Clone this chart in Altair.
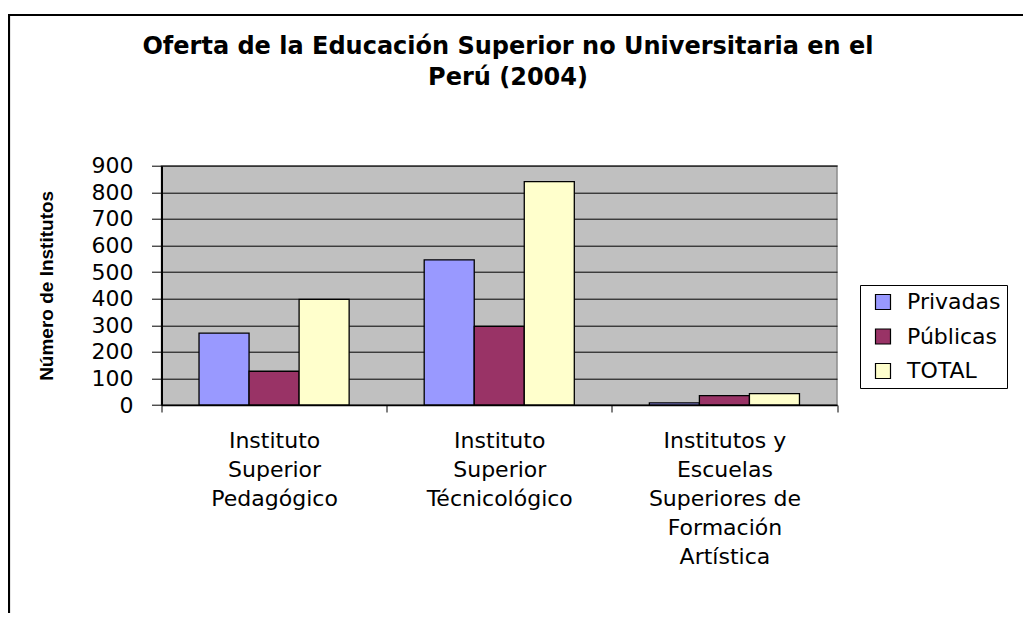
import altair as alt
import pandas as pd

# ---- data ----
categorias = [
    "Instituto\nSuperior\nPedagógico",
    "Instituto\nSuperior\nTécnicológico",
    "Institutos y\nEscuelas\nSuperiores de\nFormación\nArtística",
]
series = ["Privadas", "Públicas", "TOTAL"]
privadas = [270, 546, 8]
publicas = [127, 296, 35]
total = [397, 840, 43]
colores = ["#9999FF", "#993366", "#FFFFCC"]
y_ticks = [0, 100, 200, 300, 400, 500, 600, 700, 800, 900]
titulo = ["Oferta de la Educación Superior no Universitaria en el", "Perú (2004)"]
titulo_y = "Número de Institutos"

rows = []
for nombre, vals in zip(series, [privadas, publicas, total]):
    for c, v in zip(categorias, vals):
        rows.append({"categoria": c, "serie": nombre, "valor": v})
df = pd.DataFrame(rows)

W, H = 675.5, 239.3
PAD = {"left": 153.5, "top": 157.7, "right": 186, "bottom": 208}
FONT = "DejaVu Sans"

bars = alt.Chart(df).mark_bar(stroke="black", strokeWidth=1.3).encode(
    x=alt.X(
        "categoria:N",
        sort=categorias,
        scale=alt.Scale(paddingInner=0, paddingOuter=0),
        axis=alt.Axis(
            title=None,
            labelAngle=0,
            labelExpr="isValid(datum.value) ? split(datum.value, '\\n') : ''",
            tickBand="extent",
            tickSize=7,
            tickColor="black",
            domainColor="black",
            domainWidth=1.5,
            labelPadding=18,
            labelFont=FONT,
            labelFontSize=22,
            labelLineHeight=29,
            labelColor="black",
            labelBaseline="top",
            labelLimit=400,
            grid=False,
        ),
    ),
    xOffset=alt.XOffset(
        "serie:N", sort=series, scale=alt.Scale(paddingInner=0, paddingOuter=0.75)
    ),
    y=alt.Y(
        "valor:Q",
        scale=alt.Scale(domain=[0, 900], nice=False),
        axis=alt.Axis(
            values=y_ticks,
            title=titulo_y,
            titleFont="Liberation Sans",
            titleFontSize=19,
            titleFontWeight="bold",
            titleColor="black",
            titleAngle=270,
            titleAlign="center",
            titleBaseline="middle",
            titleX=-115.5,
            titleY=H / 2,
            labelFont=FONT,
            labelFontSize=22,
            labelColor="black",
            labelPadding=18.5,
            tickSize=10,
            tickColor="black",
            domainColor="black",
            domainWidth=2,
            gridColor="black",
            gridWidth=1,
        ),
    ),
    color=alt.Color(
        "serie:N",
        sort=series,
        scale=alt.Scale(domain=series, range=colores),
        legend=alt.Legend(
            title=None,
            orient="none",
            legendX=698.5,
            legendY=119.3,
            strokeColor="black",
            fillColor="white",
            padding=6,
            labelFont=FONT,
            labelFontSize=22,
            labelColor="black",
            symbolType="square",
            symbolSize=225,
            symbolStrokeColor="black",
            symbolStrokeWidth=1.2,
            rowPadding=12.5,
            symbolOffset=6,
            labelOffset=13,
        ),
    ),
)

frame = alt.Data(values=[{"k": 0}])
left_line = alt.Chart(frame).mark_rule(color="black", strokeWidth=2.2).encode(
    x=alt.value(1 - PAD["left"]),
    y=alt.value(7 - PAD["top"]),
    y2=alt.value(H + PAD["bottom"]),
)
top_line = alt.Chart(frame).mark_rule(color="black", strokeWidth=2).encode(
    x=alt.value(-PAD["left"]),
    x2=alt.value(W + PAD["right"]),
    y=alt.value(7 - PAD["top"]),
)
title_text = alt.Chart(frame).mark_text(
    font=FONT,
    fontSize=24,
    fontWeight="bold",
    color="black",
    align="center",
    baseline="middle",
    lineHeight=31,
).encode(
    text=alt.value(titulo),
    x=alt.value(346.5),
    y=alt.value(47 - 165.7),
)

chart = (
    alt.layer(bars, left_line, top_line, title_text)
    .properties(
        width=W,
        height=H,
        autosize=alt.AutoSizeParams(type="none"),
        padding=PAD,
        background="white",
    )
    .configure_view(fill="#C0C0C0", stroke="#8c8c8c", strokeWidth=1.5)
)

chart.save("out.html", embed_options={"renderer": "svg", "actions": False})
